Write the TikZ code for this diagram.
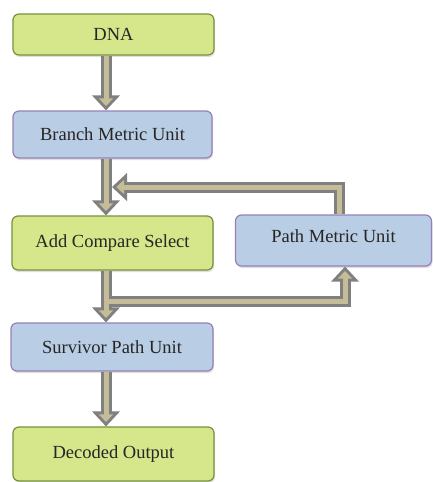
\documentclass[tikz,border=0pt]{standalone}
\usepackage{fontspec}
\setmainfont{Liberation Serif}
\usetikzlibrary{calc,shadows}
\definecolor{gfill}{RGB}{214,230,138}
\definecolor{gdraw}{RGB}{118,146,60}
\definecolor{bfill}{RGB}{185,205,229}
\definecolor{bdraw}{RGB}{150,128,184}
\definecolor{aout}{RGB}{128,128,128}
\definecolor{ain}{RGB}{196,189,151}
\newcommand\outerdown[1]{\fill[aout] (#1) -- ++(-14,-15) -- ++(28,0) -- cycle;}
\newcommand\innerdown[1]{\fill[ain] ($(#1)+(0,-4.4)$) -- ++(-7.1,-7.6) -- ++(14.2,0) -- cycle;}
\newcommand\outerup[1]{\fill[aout] (#1) -- ++(-14,15) -- ++(28,0) -- cycle;}
\newcommand\innerup[1]{\fill[ain] ($(#1)+(0,4.4)$) -- ++(-7.1,7.6) -- ++(14.2,0) -- cycle;}
\newcommand\outerleft[1]{\fill[aout] (#1) -- ++(15,-14) -- ++(0,28) -- cycle;}
\newcommand\innerleft[1]{\fill[ain] ($(#1)+(4.4,0)$) -- ++(7.6,-7.1) -- ++(0,14.2) -- cycle;}
\begin{document}
\begin{tikzpicture}[x=1pt,y=-1pt,
  box/.style={rectangle, rounded corners=6pt, line width=1.2pt, inner sep=0pt,
    font=\fontsize{18.5}{21}\selectfont, text=black!85,
    drop shadow={shadow xshift=1pt, shadow yshift=-2pt, opacity=0.25}},
  gbox/.style={box, fill=gfill, draw=gdraw},
  bbox/.style={box, fill=bfill, draw=bdraw},
  outer/.style={draw=aout, line width=11pt},
  inner/.style={draw=ain, line width=5pt},
]
\useasboundingbox (0,0) rectangle (433,482);
\node[gbox, minimum width=201pt, minimum height=41pt] (dna) at (113.5,34.5) {DNA};
\node[bbox, minimum width=199pt, minimum height=47pt] (bmu) at (112.5,134.5) {Branch Metric Unit};
\node[gbox, minimum width=201pt, minimum height=54pt] (acs) at (112.5,243) {Add Compare Select};
\node[bbox, minimum width=196pt, minimum height=51pt, text depth=8pt] (pmu) at (333.5,240.5) {Path Metric Unit};
\node[bbox, minimum width=202pt, minimum height=48pt] (spu) at (112,347) {Survivor Path Unit};
\node[gbox, minimum width=201pt, minimum height=54pt] (dec) at (113.5,454) {Decoded Output};

\coordinate (ax) at (106,0);
\coordinate (t1) at (bmu.north -| ax);
\coordinate (t2) at (acs.north -| ax);
\coordinate (t3) at (spu.north -| ax);
\coordinate (t4) at (dec.north -| ax);
\coordinate (fbtip) at ($($(bmu.south -| ax)!0.5!(acs.north -| ax)$)+(6,0)$);
\coordinate (j1) at ($(acs.south -| ax)!0.6!(spu.north -| ax)$);
\coordinate (pu) at ([xshift=5.5pt]pmu.north);
\coordinate (pd) at ([xshift=11.5pt]pmu.south);

% outer shafts
\draw[outer] (dna.south -| ax) -- ($(t1)+(0,-13)$);
\draw[outer] (bmu.south -| ax) -- ($(t2)+(0,-13)$);
\draw[outer] (acs.south -| ax) -- ($(t3)+(0,-13)$);
\draw[outer] (spu.south -| ax) -- ($(t4)+(0,-13)$);
\draw[outer] (pu) -- (pu |- fbtip) -- ($(fbtip)+(13,0)$);
\draw[outer] (j1) -- (pd |- j1) -- ($(pd)+(0,13)$);
% outer heads
\outerdown{t1}\outerdown{t2}\outerdown{t3}\outerdown{t4}
\outerleft{fbtip}\outerup{pd}
% inner shafts
\draw[inner] (dna.south -| ax) -- ($(t1)+(0,-10)$);
\draw[inner] (bmu.south -| ax) -- ($(t2)+(0,-10)$);
\draw[inner] (acs.south -| ax) -- ($(t3)+(0,-10)$);
\draw[inner] (spu.south -| ax) -- ($(t4)+(0,-10)$);
\draw[inner] (pu) -- (pu |- fbtip) -- ($(fbtip)+(10,0)$);
\draw[inner] (j1) -- (pd |- j1) -- ($(pd)+(0,10)$);
% inner heads
\innerdown{t1}\innerdown{t2}\innerdown{t3}\innerdown{t4}
\innerleft{fbtip}\innerup{pd}
\end{tikzpicture}
\end{document}
